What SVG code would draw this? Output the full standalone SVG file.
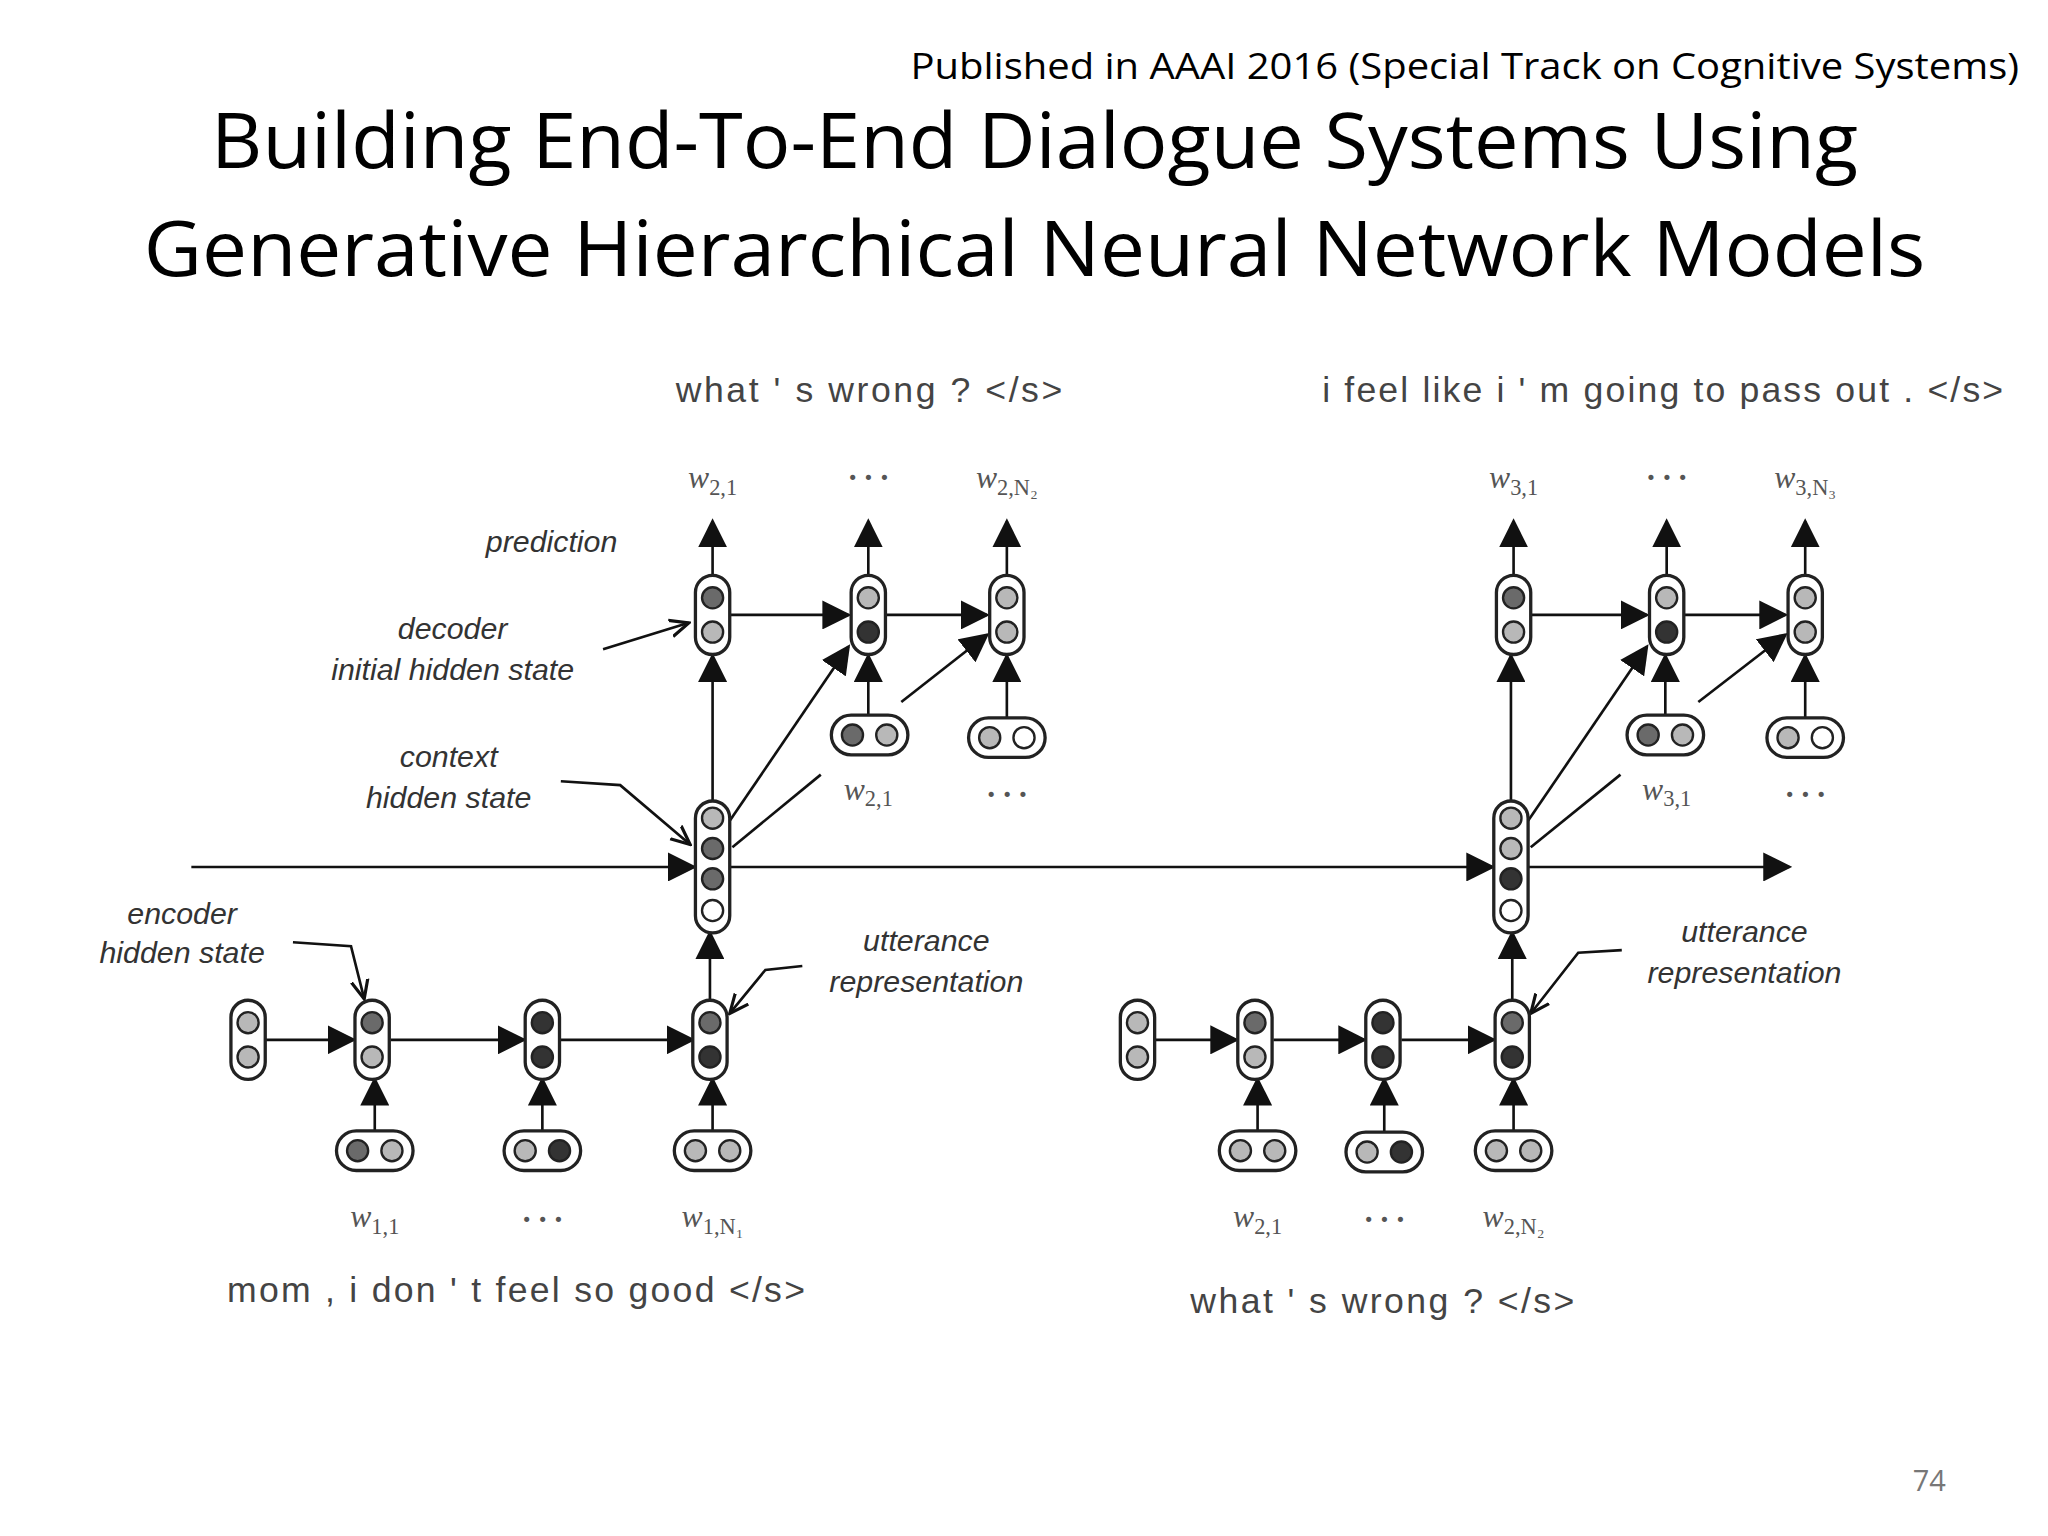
<svg xmlns="http://www.w3.org/2000/svg" width="2048" height="1536" viewBox="0 0 2048 1536">
<style>
.cap{fill:#fff;stroke:#222;stroke-width:2.5}
.c{stroke:#222;stroke-width:1.8}
.d{fill:#333}.m{fill:#6a6a6a}.l{fill:#b8b8b8}.w{fill:#fff}
.ln{stroke:#111;stroke-width:2;fill:none}
.a{marker-end:url(#ah2)}
.o{marker-end:url(#oa)}
.lab{font-family:"Liberation Sans",Arial,sans-serif;font-style:italic;font-size:23px;fill:#333;text-anchor:middle}
.math{font-family:"Liberation Serif","DejaVu Serif",serif;font-style:italic;font-size:24px;fill:#555;text-anchor:middle}
.sub{font-style:normal;font-size:17px}
.sen{font-family:"Liberation Sans",Arial,sans-serif;font-size:27px;fill:#444}
.ttl{font-family:"Open Sans","Noto Sans",sans-serif;fill:#000}
</style>
<defs>
<marker id="ah2" viewBox="0 0 10 10" refX="9" refY="5" markerWidth="22" markerHeight="22" markerUnits="userSpaceOnUse" orient="auto"><path d="M0,0L10,5L0,10z" fill="#111"/></marker>
<marker id="oa" viewBox="0 0 10 10" refX="9" refY="5" markerWidth="16" markerHeight="16" markerUnits="userSpaceOnUse" orient="auto"><path d="M0,1L9,5L0,9" fill="none" stroke="#111" stroke-width="1.5"/></marker>
</defs>
<rect width="2048" height="1536" fill="#fff"/>
<g transform="scale(1.3196)">
<g id="titles">
<text class="ttl" x="1530" y="60" font-size="28" text-anchor="end" textLength="840" lengthAdjust="spacingAndGlyphs">Published in AAAI 2016 (Special Track on Cognitive Systems)</text>
<text class="ttl" x="784" y="127" font-size="58" text-anchor="middle" textLength="1248" lengthAdjust="spacingAndGlyphs">Building End-To-End Dialogue Systems Using</text>
<text class="ttl" x="784" y="209" font-size="58" text-anchor="middle" textLength="1350" lengthAdjust="spacingAndGlyphs">Generative Hierarchical Neural Network Models</text>
<text class="ttl" x="1462" y="1130" font-size="22" text-anchor="middle" style="fill:#777">74</text>
</g>
<g id="connectors" class="ln">
<path class="a" d="M540,435V395"/><path class="a" d="M658,435V395"/><path class="a" d="M763,435V395"/>
<path class="a" d="M1147,435V395"/><path class="a" d="M1263,435V395"/><path class="a" d="M1368,435V395"/>
<path class="a" d="M553,466H643"/><path class="a" d="M671,466H748"/><path class="a" d="M1160,466H1248"/><path class="a" d="M1276,466H1353"/>
<path class="a" d="M658,542V497"/><path class="a" d="M763,544V497"/><path class="a" d="M1262,542V497"/><path class="a" d="M1368,544V497"/>
<path class="a" d="M540,607V497"/><path class="a" d="M1145,607V497"/>
<path class="a" d="M553,622L643,490"/><path class="a" d="M683,532L748,481"/><path class="a" d="M1158,622L1248,490"/><path class="a" d="M1287,532L1353,481"/>
<path d="M555,642L622,587"/><path d="M1160,642L1228,587"/>
<path class="a" d="M145,657H526"/><path class="a" d="M553,657H1131"/><path class="a" d="M1158,657H1356"/>
<path class="a" d="M201,788H268"/><path class="a" d="M296,788H397"/><path class="a" d="M425,788H525"/>
<path class="a" d="M875,788H937"/><path class="a" d="M965,788H1034"/><path class="a" d="M1062,788H1132"/>
<path class="a" d="M284,857V818"/><path class="a" d="M411,857V818"/><path class="a" d="M540,857V818"/>
<path class="a" d="M953,857V818"/><path class="a" d="M1049,858V818"/><path class="a" d="M1147,857V818"/>
<path class="a" d="M538,758V707"/><path class="a" d="M1146,758V707"/>
<path class="o" d="M457,492L522,472"/>
<path class="o" d="M425,592L470,595L523,640"/>
<path class="o" d="M222,714L266,717L276,757"/>
<path class="o" d="M608,732L580,735L553,768"/>
<path class="o" d="M1229,720L1196,722L1160,768"/>
</g>
<g id="dec1"><rect class="cap" x="527" y="436" width="26" height="60" rx="13"/><circle class="c m" cx="540" cy="453" r="8"/><circle class="c l" cx="540" cy="479" r="8"/></g>
<g id="dec2"><rect class="cap" x="645" y="436" width="26" height="60" rx="13"/><circle class="c l" cx="658" cy="453" r="8"/><circle class="c d" cx="658" cy="479" r="8"/></g>
<g id="dec3"><rect class="cap" x="750" y="436" width="26" height="60" rx="13"/><circle class="c l" cx="763" cy="453" r="8"/><circle class="c l" cx="763" cy="479" r="8"/></g>
<g id="dec4"><rect class="cap" x="1134" y="436" width="26" height="60" rx="13"/><circle class="c m" cx="1147" cy="453" r="8"/><circle class="c l" cx="1147" cy="479" r="8"/></g>
<g id="dec5"><rect class="cap" x="1250" y="436" width="26" height="60" rx="13"/><circle class="c l" cx="1263" cy="453" r="8"/><circle class="c d" cx="1263" cy="479" r="8"/></g>
<g id="dec6"><rect class="cap" x="1355" y="436" width="26" height="60" rx="13"/><circle class="c l" cx="1368" cy="453" r="8"/><circle class="c l" cx="1368" cy="479" r="8"/></g>
<g id="din1"><rect class="cap" x="630" y="542" width="58" height="30" rx="15"/><circle class="c m" cx="646" cy="557" r="8"/><circle class="c l" cx="672" cy="557" r="8"/></g>
<g id="din2"><rect class="cap" x="734" y="544" width="58" height="30" rx="15"/><circle class="c l" cx="750" cy="559" r="8"/><circle class="c w" cx="776" cy="559" r="8"/></g>
<g id="din3"><rect class="cap" x="1233" y="542" width="58" height="30" rx="15"/><circle class="c m" cx="1249" cy="557" r="8"/><circle class="c l" cx="1275" cy="557" r="8"/></g>
<g id="din4"><rect class="cap" x="1339" y="544" width="58" height="30" rx="15"/><circle class="c l" cx="1355" cy="559" r="8"/><circle class="c w" cx="1381" cy="559" r="8"/></g>
<g id="ctx1"><rect class="cap" x="527" y="607" width="26" height="100" rx="13"/><circle class="c l" cx="540" cy="620" r="8"/><circle class="c m" cx="540" cy="643" r="8"/><circle class="c m" cx="540" cy="666" r="8"/><circle class="c w" cx="540" cy="690" r="8"/></g>
<g id="ctx2"><rect class="cap" x="1132" y="607" width="26" height="100" rx="13"/><circle class="c l" cx="1145" cy="620" r="8"/><circle class="c l" cx="1145" cy="643" r="8"/><circle class="c d" cx="1145" cy="666" r="8"/><circle class="c w" cx="1145" cy="690" r="8"/></g>
<g id="enc0"><rect class="cap" x="175" y="758" width="26" height="60" rx="13"/><circle class="c l" cx="188" cy="775" r="8"/><circle class="c l" cx="188" cy="801" r="8"/></g>
<g id="enc1"><rect class="cap" x="269" y="758" width="26" height="60" rx="13"/><circle class="c m" cx="282" cy="775" r="8"/><circle class="c l" cx="282" cy="801" r="8"/></g>
<g id="enc2"><rect class="cap" x="398" y="758" width="26" height="60" rx="13"/><circle class="c d" cx="411" cy="775" r="8"/><circle class="c d" cx="411" cy="801" r="8"/></g>
<g id="enc3"><rect class="cap" x="525" y="758" width="26" height="60" rx="13"/><circle class="c m" cx="538" cy="775" r="8"/><circle class="c d" cx="538" cy="801" r="8"/></g>
<g id="enc4"><rect class="cap" x="849" y="758" width="26" height="60" rx="13"/><circle class="c l" cx="862" cy="775" r="8"/><circle class="c l" cx="862" cy="801" r="8"/></g>
<g id="enc5"><rect class="cap" x="938" y="758" width="26" height="60" rx="13"/><circle class="c m" cx="951" cy="775" r="8"/><circle class="c l" cx="951" cy="801" r="8"/></g>
<g id="enc6"><rect class="cap" x="1035" y="758" width="26" height="60" rx="13"/><circle class="c d" cx="1048" cy="775" r="8"/><circle class="c d" cx="1048" cy="801" r="8"/></g>
<g id="enc7"><rect class="cap" x="1133" y="758" width="26" height="60" rx="13"/><circle class="c m" cx="1146" cy="775" r="8"/><circle class="c d" cx="1146" cy="801" r="8"/></g>
<g id="ein1"><rect class="cap" x="255" y="857" width="58" height="30" rx="15"/><circle class="c m" cx="271" cy="872" r="8"/><circle class="c l" cx="297" cy="872" r="8"/></g>
<g id="ein2"><rect class="cap" x="382" y="857" width="58" height="30" rx="15"/><circle class="c l" cx="398" cy="872" r="8"/><circle class="c d" cx="424" cy="872" r="8"/></g>
<g id="ein3"><rect class="cap" x="511" y="857" width="58" height="30" rx="15"/><circle class="c l" cx="527" cy="872" r="8"/><circle class="c l" cx="553" cy="872" r="8"/></g>
<g id="ein4"><rect class="cap" x="924" y="857" width="58" height="30" rx="15"/><circle class="c l" cx="940" cy="872" r="8"/><circle class="c l" cx="966" cy="872" r="8"/></g>
<g id="ein5"><rect class="cap" x="1020" y="858" width="58" height="30" rx="15"/><circle class="c l" cx="1036" cy="873" r="8"/><circle class="c d" cx="1062" cy="873" r="8"/></g>
<g id="ein6"><rect class="cap" x="1118" y="857" width="58" height="30" rx="15"/><circle class="c l" cx="1134" cy="872" r="8"/><circle class="c l" cx="1160" cy="872" r="8"/></g>
<g id="labels">
<text class="lab" x="418" y="418">prediction</text>
<text class="lab" x="343" y="484">decoder</text>
<text class="lab" x="343" y="515">initial hidden state</text>
<text class="lab" x="340" y="581">context</text>
<text class="lab" x="340" y="612">hidden state</text>
<text class="lab" x="138" y="700">encoder</text>
<text class="lab" x="138" y="730">hidden state</text>
<text class="lab" x="702" y="721">utterance</text>
<text class="lab" x="702" y="752">representation</text>
<text class="lab" x="1322" y="714">utterance</text>
<text class="lab" x="1322" y="745">representation</text>
</g>
<g id="math">
<text class="math" x="540" y="370">w<tspan class="sub" dy="5">2,1</tspan></text>
<text class="math" x="658" y="370" font-weight="bold">· · ·</text>
<text class="math" x="763" y="370">w<tspan class="sub" dy="5">2,N₂</tspan></text>
<text class="math" x="1147" y="370">w<tspan class="sub" dy="5">3,1</tspan></text>
<text class="math" x="1263" y="370" font-weight="bold">· · ·</text>
<text class="math" x="1368" y="370">w<tspan class="sub" dy="5">3,N₃</tspan></text>
<text class="math" x="658" y="606">w<tspan class="sub" dy="5">2,1</tspan></text>
<text class="math" x="763" y="610" font-weight="bold">· · ·</text>
<text class="math" x="1263" y="606">w<tspan class="sub" dy="5">3,1</tspan></text>
<text class="math" x="1368" y="610" font-weight="bold">· · ·</text>
<text class="math" x="284" y="930">w<tspan class="sub" dy="5">1,1</tspan></text>
<text class="math" x="411" y="932" font-weight="bold">· · ·</text>
<text class="math" x="540" y="930">w<tspan class="sub" dy="5">1,N₁</tspan></text>
<text class="math" x="953" y="930">w<tspan class="sub" dy="5">2,1</tspan></text>
<text class="math" x="1049" y="932" font-weight="bold">· · ·</text>
<text class="math" x="1147" y="930">w<tspan class="sub" dy="5">2,N₂</tspan></text>
</g>
<g id="sentences">
<text class="sen" x="512" y="305" textLength="293">what ' s wrong ? &lt;/s&gt;</text>
<text class="sen" x="1002" y="305" textLength="516">i feel like i ' m going to pass out . &lt;/s&gt;</text>
<text class="sen" x="172" y="987" textLength="438">mom , i don ' t feel so good &lt;/s&gt;</text>
<text class="sen" x="902" y="995" textLength="291">what ' s wrong ? &lt;/s&gt;</text>
</g>
</g>
</svg>
